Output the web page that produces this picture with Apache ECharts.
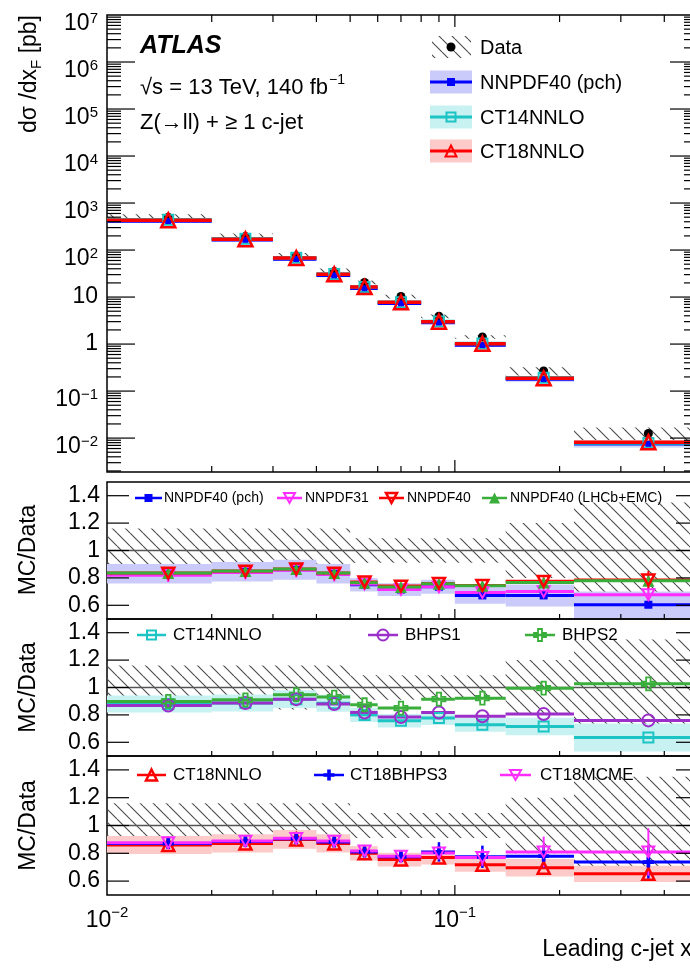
<!DOCTYPE html>
<html>
<head>
<meta charset="utf-8">
<script src="https://cdn.jsdelivr.net/npm/echarts@6/dist/echarts.min.js"></script>
<style>
  html, body { margin: 0; padding: 0; background: #fff; }
  #chart { width: 690px; height: 968px; }
</style>
</head>
<body>
<div id="chart"></div>
<script>
// ---------------- data ----------------
// bin edges and bin centres in leading c-jet x_F
const binEdges   = [0.01, 0.02, 0.03, 0.04, 0.05, 0.06, 0.08, 0.10, 0.14, 0.22, 0.50];
const binCenters = [0.015, 0.025, 0.035, 0.045, 0.055, 0.07, 0.09, 0.12, 0.18, 0.36];

// measured differential cross section [pb] and its relative total uncertainty
const dataXsec   = [500, 195, 75, 35, 20.5, 10.3, 3.9, 1.42, 0.268, 0.0125];
const dataRelUnc = [0.16, 0.16, 0.16, 0.16, 0.09, 0.09, 0.09, 0.09, 0.20, 0.35];

// predictions [pb]
const predNNPDF40pch = [415, 165, 64.5, 29.0, 15.4, 7.36, 2.87, 0.954, 0.180, 0.00755];
const predCT14NNLO   = [440, 173, 68.6, 31.0, 16.4, 7.80, 3.03, 1.03, 0.192, 0.0079];
const predCT18NNLO   = [430, 170, 67.5, 30.5, 16.4, 7.78, 3.00, 1.02, 0.187, 0.0082];

// relative PDF uncertainty of the predictions with bands
const relUncNNPDF40pch = [0.085, 0.085, 0.085, 0.085, 0.065, 0.065, 0.07, 0.09, 0.12, 0.16];
const relUncCT14NNLO   = [0.07, 0.07, 0.07, 0.07, 0.065, 0.065, 0.065, 0.07, 0.09, 0.16];
const relUncCT18NNLO   = [0.075, 0.075, 0.075, 0.075, 0.065, 0.065, 0.065, 0.07, 0.09, 0.09];

// MC/Data ratios, panel 1
const ratioNNPDF40pch  = [0.830, 0.845, 0.860, 0.830, 0.750, 0.715, 0.735, 0.672, 0.672, 0.604];
const ratioNNPDF31     = [0.820, 0.840, 0.855, 0.825, 0.755, 0.715, 0.735, 0.693, 0.700, 0.677];
const ratioNNPDF40     = [0.835, 0.850, 0.865, 0.835, 0.770, 0.740, 0.760, 0.745, 0.775, 0.785];
const ratioNNPDF40lhcb = [0.835, 0.850, 0.865, 0.835, 0.765, 0.733, 0.757, 0.742, 0.766, 0.780];
// panel 2
const ratioCT14NNLO = [0.880, 0.886, 0.915, 0.885, 0.800, 0.757, 0.777, 0.728, 0.715, 0.635];
const ratioBHPS1    = [0.869, 0.886, 0.915, 0.879, 0.818, 0.784, 0.818, 0.790, 0.806, 0.760];
const ratioBHPS2    = [0.898, 0.910, 0.947, 0.930, 0.874, 0.850, 0.915, 0.922, 0.995, 1.027];
// panel 3
const ratioCT18NNLO  = [0.860, 0.871, 0.900, 0.871, 0.800, 0.755, 0.770, 0.718, 0.696, 0.652];
const ratioCT18BHPS3 = [0.870, 0.885, 0.905, 0.882, 0.810, 0.775, 0.810, 0.775, 0.779, 0.737];
const ratioCT18MCME  = [0.876, 0.888, 0.908, 0.888, 0.817, 0.779, 0.803, 0.770, 0.810, 0.810];

// error bars on ratio markers
const errNNPDF40pch  = [0.01, 0.01, 0.01, 0.01, 0.01, 0.01, 0.01, 0.015, 0.02, 0.02];
const errNNPDF31     = [0.05, 0.05, 0.05, 0.05, 0.04, 0.04, 0.04, 0.04, 0.05, 0.08];
const errNNPDF40     = [0.02, 0.02, 0.02, 0.02, 0.02, 0.02, 0.02, 0.02, 0.03, 0.065];
const errCT18BHPS3   = [0.02, 0.02, 0.02, 0.02, 0.03, 0.03, 0.07, 0.08, 0.08, 0.12];
const errCT18MCME    = [0.02, 0.02, 0.02, 0.02, 0.03, 0.03, 0.04, 0.06, 0.11, 0.17];

// axis tick values
const xMajorTicks = [0.1];
const xMinorTicks = [0.02, 0.03, 0.04, 0.05, 0.06, 0.07, 0.08, 0.09, 0.2, 0.3, 0.4];
const yPowers = [-2, -1, 0, 1, 2, 3, 4, 5, 6, 7];
const yMinorMultipliers = [2, 3, 4, 5, 6, 7, 8, 9];
const ratioTicks = [0.6, 0.8, 1, 1.2, 1.4];
const xLabelTicks = [0.01, 0.1];

// ---------------- style ----------------
const FONT = '"Liberation Sans", Arial, Helvetica, sans-serif';
const COL = {
  blue: '#0000ff', blueBand: '#cacafb',
  cyan: '#1cc4c4', cyanBand: '#c8f1f1',
  red: '#ff0000', redBand: '#fdcaca',
  magenta: '#ff2cff', green: '#3aae3a', purple: '#9a2fc9',
  hatch: '#4a4a4a'
};
const X_MIN = 0.01, X_MAX = 0.5;
const TOP_YMIN = 0.0019, TOP_YMAX = 1e7;
const R_YMIN = 0.5, R_YMAX = 1.5;

// diagonal hatch pattern for the data uncertainty
const hatchCanvas = (() => {
  const s = 13, c = document.createElement('canvas');
  c.width = s; c.height = s;
  const g = c.getContext('2d');
  g.strokeStyle = COL.hatch; g.lineWidth = 1.1;
  g.beginPath();
  for (const k of [-1, 0, 1]) { g.moveTo(k * s, 0); g.lineTo(k * s + s, s); }
  g.stroke();
  return c;
})();
const hatchFill = { image: hatchCanvas, repeat: 'repeat' };

// ---------------- series helpers ----------------
const onGrid = gi => ({ xAxisIndex: gi, yAxisIndex: gi });

function boxSeries(gi, lo, hi, fill, z) {
  return {
    type: 'custom', ...onGrid(gi), z, silent: true,
    data: lo.map((l, i) => [binEdges[i], binEdges[i + 1], l, hi[i]]),
    encode: { x: [0, 1], y: [2, 3] },
    renderItem: (p, api) => {
      const a = api.coord([api.value(0), api.value(3)]);
      const b = api.coord([api.value(1), api.value(2)]);
      return { type: 'rect', shape: { x: a[0], y: a[1], width: b[0] - a[0], height: b[1] - a[1] }, style: { fill } };
    }
  };
}

function stepSeries(gi, vals, color, width, z, edges) {
  const e = edges || binEdges;
  return {
    type: 'custom', ...onGrid(gi), z, silent: true,
    data: vals.map((v, i) => [e[i], e[i + 1], v]),
    encode: { x: [0, 1], y: 2 },
    renderItem: (p, api) => {
      const a = api.coord([api.value(0), api.value(2)]);
      const b = api.coord([api.value(1), api.value(2)]);
      return { type: 'line', shape: { x1: a[0], y1: a[1], x2: b[0], y2: b[1] }, style: { stroke: color, lineWidth: width } };
    }
  };
}

function errSeries(gi, vals, errs, color, width, z) {
  return {
    type: 'custom', ...onGrid(gi), z, silent: true,
    data: vals.map((v, i) => [binCenters[i], v - errs[i], v + errs[i]]),
    encode: { x: 0, y: [1, 2] },
    renderItem: (p, api) => {
      const a = api.coord([api.value(0), api.value(1)]);
      const b = api.coord([api.value(0), api.value(2)]);
      return { type: 'line', shape: { x1: a[0], y1: a[1], x2: b[0], y2: b[1] }, style: { stroke: color, lineWidth: width } };
    }
  };
}

const SYM_INV_TRI = 'path://M0,0L10,0L5,9Z';
const SYM_CROSS = 'path://M3.3,0L6.7,0L6.7,3.3L10,3.3L10,6.7L6.7,6.7L6.7,10L3.3,10L3.3,6.7L0,6.7L0,3.3L3.3,3.3Z';

function markerSeries(gi, vals, symbol, size, color, open, z, bw) {
  return {
    type: 'scatter', ...onGrid(gi), z, silent: true,
    symbol, symbolSize: size, symbolKeepAspect: true,
    itemStyle: open
      ? { color: 'rgba(0,0,0,0)', borderColor: color, borderWidth: bw || 2, opacity: 1 }
      : { color, borderWidth: 0, opacity: 1 },
    data: vals.map((v, i) => [binCenters[i], v])
  };
}

// tick marks drawn on all four frame sides through the axis scales
function tickSeries(gi, items) {
  return {
    type: 'custom', ...onGrid(gi), z: 60, silent: true,
    data: items, encode: { x: 0, y: 1 },
    renderItem: (p, api) => {
      const pt = api.coord([api.value(0), api.value(1)]);
      const kind = api.value(2), len = api.value(3);
      let x2 = pt[0], y2 = pt[1];
      if (kind === 0) y2 -= len; else if (kind === 1) y2 += len;
      else if (kind === 2) x2 += len; else x2 -= len;
      return { type: 'line', shape: { x1: pt[0], y1: pt[1], x2, y2 }, style: { stroke: '#000', lineWidth: 1.2 } };
    }
  };
}

function topPanelTicks() {
  const items = [];
  xMajorTicks.forEach(v => { items.push([v, TOP_YMIN, 0, 12]); items.push([v, TOP_YMAX, 1, 12]); });
  xMinorTicks.forEach(v => { items.push([v, TOP_YMIN, 0, 6]); items.push([v, TOP_YMAX, 1, 7]); });
  yPowers.forEach(k => {
    const v = Math.pow(10, k);
    if (k < 7) { items.push([X_MIN, v, 2, 28]); items.push([X_MAX, v, 3, 28]); }
  });
  [-3].concat(yPowers).forEach(k => {
    yMinorMultipliers.forEach(m => {
      const v = m * Math.pow(10, k);
      if (v > TOP_YMIN && v < TOP_YMAX) { items.push([X_MIN, v, 2, 14]); items.push([X_MAX, v, 3, 14]); }
    });
  });
  return items;
}
function ratioPanelTicks() {
  const items = [];
  xMajorTicks.forEach(v => items.push([v, R_YMIN, 0, 10]));
  xMinorTicks.forEach(v => items.push([v, R_YMIN, 0, 5]));
  ratioTicks.forEach(v => { items.push([X_MIN, v, 2, 22]); items.push([X_MAX, v, 3, 22]); });
  return items;
}

// ---------------- series ----------------
const series = [];
const scaled = (vals, rel, s) => vals.map((v, i) => v * (1 + s * rel[i]));

// top panel
series.push(boxSeries(0, scaled(dataXsec, dataRelUnc, -1), scaled(dataXsec, dataRelUnc, 1), hatchFill, 1));
series.push(boxSeries(0, scaled(predNNPDF40pch, relUncNNPDF40pch, -1), scaled(predNNPDF40pch, relUncNNPDF40pch, 1), COL.blueBand, 2));
series.push(boxSeries(0, scaled(predCT14NNLO, relUncCT14NNLO, -1), scaled(predCT14NNLO, relUncCT14NNLO, 1), COL.cyanBand, 2));
series.push(boxSeries(0, scaled(predCT18NNLO, relUncCT18NNLO, -1), scaled(predCT18NNLO, relUncCT18NNLO, 1), COL.redBand, 2));
series.push(stepSeries(0, predNNPDF40pch, COL.blue, 3.5, 5));
series.push(stepSeries(0, predCT14NNLO, COL.cyan, 3.5, 6));
series.push(stepSeries(0, predCT18NNLO, COL.red, 3.5, 7));
series.push(markerSeries(0, dataXsec, 'circle', 9, '#000', false, 10));
series.push(markerSeries(0, predCT14NNLO, 'rect', 10, COL.cyan, true, 11, 2));
series.push(markerSeries(0, predNNPDF40pch, 'rect', 6, COL.blue, false, 12));
series.push(markerSeries(0, predCT18NNLO, 'triangle', 14, COL.red, true, 13, 2.5));
series.push(tickSeries(0, topPanelTicks()));

// ratio panels: data uncertainty hatch and unity line
const ones = dataRelUnc.map(() => 1);
[1, 2, 3].forEach(gi => {
  series.push(boxSeries(gi, scaled(ones, dataRelUnc, -1), scaled(ones, dataRelUnc, 1), hatchFill, 1));
  series.push(stepSeries(gi, [1], '#555', 1.6, 4, [X_MIN, X_MAX]));
  series.push(tickSeries(gi, ratioPanelTicks()));
});

// panel 1
series.push(boxSeries(1, scaled(ratioNNPDF40pch, relUncNNPDF40pch, -1), scaled(ratioNNPDF40pch, relUncNNPDF40pch, 1), COL.blueBand, 3));
series.push(stepSeries(1, ratioNNPDF40pch, COL.blue, 3, 5));
series.push(stepSeries(1, ratioNNPDF31, COL.magenta, 3, 6));
series.push(stepSeries(1, ratioNNPDF40, COL.red, 3, 7));
series.push(stepSeries(1, ratioNNPDF40lhcb, COL.green, 3, 8));
series.push(errSeries(1, ratioNNPDF40pch, errNNPDF40pch, COL.blue, 3, 9));
series.push(errSeries(1, ratioNNPDF31, errNNPDF31, COL.magenta, 2, 9));
series.push(errSeries(1, ratioNNPDF40, errNNPDF40, COL.red, 2, 9));
series.push(markerSeries(1, ratioNNPDF40pch, 'rect', 8, COL.blue, false, 10));
series.push(markerSeries(1, ratioNNPDF31, SYM_INV_TRI, 12, COL.magenta, true, 11, 2));
series.push(markerSeries(1, ratioNNPDF40lhcb, 'triangle', 12, COL.green, false, 12));
series.push(markerSeries(1, ratioNNPDF40, SYM_INV_TRI, 12, COL.red, true, 13, 2.5));

// panel 2
series.push(boxSeries(2, scaled(ratioCT14NNLO, relUncCT14NNLO, -1), scaled(ratioCT14NNLO, relUncCT14NNLO, 1), COL.cyanBand, 3));
series.push(stepSeries(2, ratioCT14NNLO, COL.cyan, 3, 5));
series.push(stepSeries(2, ratioBHPS1, COL.purple, 3, 6));
series.push(stepSeries(2, ratioBHPS2, COL.green, 3, 7));
series.push(markerSeries(2, ratioCT14NNLO, 'rect', 10, COL.cyan, true, 10, 2));
series.push(markerSeries(2, ratioBHPS1, 'circle', 12, COL.purple, true, 11, 2));
series.push(markerSeries(2, ratioBHPS2, SYM_CROSS, 13, COL.green, true, 12, 1.8));

// panel 3
series.push(boxSeries(3, scaled(ratioCT18NNLO, relUncCT18NNLO, -1), scaled(ratioCT18NNLO, relUncCT18NNLO, 1), COL.redBand, 3));
series.push(stepSeries(3, ratioCT18NNLO, COL.red, 3, 5));
series.push(stepSeries(3, ratioCT18BHPS3, COL.blue, 3, 6));
series.push(stepSeries(3, ratioCT18MCME, COL.magenta, 3, 7));
series.push(errSeries(3, ratioCT18BHPS3, errCT18BHPS3, COL.blue, 2.5, 9));
series.push(errSeries(3, ratioCT18MCME, errCT18MCME, COL.magenta, 2, 9));
series.push(markerSeries(3, ratioCT18NNLO, 'triangle', 12, COL.red, true, 10, 2.5));
series.push(markerSeries(3, ratioCT18BHPS3, SYM_CROSS, 11, COL.blue, false, 11));
series.push(markerSeries(3, ratioCT18MCME, SYM_INV_TRI, 12, COL.magenta, true, 12, 2));

// ---------------- axes ----------------
const gridBase = { left: 107, right: -8, show: true, borderColor: '#000', borderWidth: 1.5,
  backgroundColor: 'rgba(0,0,0,0)', containLabel: false, outerBoundsMode: 'none' };
const grids = [
  { ...gridBase, top: 15, height: 457 },
  { ...gridBase, top: 482, height: 137 },
  { ...gridBase, top: 619, height: 137 },
  { ...gridBase, top: 756, height: 139 }
];

const richY = {
  n: { fontSize: 23, fontFamily: FONT, color: '#000' },
  b: { fontSize: 23, fontFamily: FONT, color: '#000', padding: [18, 0, 0, 0], verticalAlign: 'top' },
  s: { fontSize: 15, fontFamily: FONT, color: '#000', padding: [17, 0, 0, 0], verticalAlign: 'top' }
};
const richX = {
  b: { fontSize: 23, fontFamily: FONT, color: '#000', padding: [6, 0, 0, 0], verticalAlign: 'top' },
  s: { fontSize: 15, fontFamily: FONT, color: '#000', padding: [2, 0, 0, 0], verticalAlign: 'top' }
};
function powLabel(v) {
  const k = Math.round(Math.log10(v));
  if (k === 0) return '{n|1}';
  if (k === 1) return '{n|10}';
  return '{b|10}{s|' + (k < 0 ? '\u2212' + (-k) : String(k)) + '}';
}

const noLine = { show: false };
const xAxes = grids.map((g, i) => ({
  type: 'log', logBase: 10, gridIndex: i, min: X_MIN, max: X_MAX,
  axisLine: noLine, axisTick: noLine, splitLine: noLine, minorTick: noLine, minorSplitLine: noLine,
  axisPointer: { show: false },
  axisLabel: i === 3
    ? { show: true, customValues: xLabelTicks, margin: 8, formatter: v => powLabel(v).replace('{n|', '{b|'), rich: richX }
    : { show: false }
}));
const yAxes = grids.map((g, i) => i === 0
  ? {
      type: 'log', logBase: 10, gridIndex: 0, min: TOP_YMIN, max: TOP_YMAX,
      axisLine: noLine, axisTick: noLine, splitLine: noLine, minorTick: noLine,
      axisLabel: { show: true, customValues: yPowers.map(k => Math.pow(10, k)), margin: 9,
        formatter: v => powLabel(v), rich: richY }
    }
  : {
      type: 'value', gridIndex: i, min: R_YMIN, max: R_YMAX,
      axisLine: noLine, axisTick: noLine, splitLine: noLine,
      axisLabel: { show: true, customValues: ratioTicks, margin: 7, fontSize: 23, fontFamily: FONT, color: '#000',
        formatter: v => String(Math.round(v * 10) / 10) }
    });

// ---------------- annotations and legends ----------------
const gfx = [];
function txt(x, y, text, size, extra) {
  gfx.push({ type: 'text', x, y, z: 100, silent: true,
    style: Object.assign({ text, fontSize: size, fontFamily: FONT, fill: '#000', verticalAlign: 'middle', align: 'left' }, extra || {}) });
}
function gMarker(kind, cx, cy, s, color, lw) {
  const h = s / 2;
  const open = { fill: 'none', stroke: color, lineWidth: lw || 2 };
  const solid = { fill: color };
  const tri = [[cx, cy - h], [cx + h, cy + h], [cx - h, cy + h]];
  const inv = [[cx - h, cy - h * 0.9], [cx + h, cy - h * 0.9], [cx, cy + h * 0.9]];
  const c = 0.33 * s;
  const cross = [[-c / 2, -h], [c / 2, -h], [c / 2, -c / 2], [h, -c / 2], [h, c / 2], [c / 2, c / 2], [c / 2, h],
    [-c / 2, h], [-c / 2, c / 2], [-h, c / 2], [-h, -c / 2], [-c / 2, -c / 2]].map(p => [cx + p[0], cy + p[1]]);
  switch (kind) {
    case 'square': return { type: 'rect', shape: { x: cx - h, y: cy - h, width: s, height: s }, style: solid };
    case 'squareOpen': return { type: 'rect', shape: { x: cx - h, y: cy - h, width: s, height: s }, style: open };
    case 'triOpen': return { type: 'polygon', shape: { points: tri }, style: open };
    case 'triFilled': return { type: 'polygon', shape: { points: tri }, style: solid };
    case 'invOpen': return { type: 'polygon', shape: { points: inv }, style: open };
    case 'circleOpen': return { type: 'circle', shape: { cx, cy, r: h }, style: open };
    case 'crossOpen': return { type: 'polygon', shape: { points: cross }, style: open };
    case 'crossFilled': return { type: 'polygon', shape: { points: cross }, style: solid };
    case 'dot': return { type: 'circle', shape: { cx, cy, r: h }, style: solid };
  }
}
function pushG(el) { el.z = 100; el.silent = true; gfx.push(el); }
function legendLine(x0, x1, y, color, kind, s, lw, label, tx, size) {
  pushG({ type: 'line', shape: { x1: x0, y1: y, x2: x1, y2: y }, style: { stroke: color, lineWidth: 2.5 } });
  pushG(gMarker(kind, (x0 + x1) / 2, y, s, color, lw));
  txt(tx, y, label, size);
}

// top panel labels
txt(140, 46, 'ATLAS', 25, { fontWeight: 'bold', fontStyle: 'italic' });
gfx.push({ type: 'text', x: 140, y: 86, z: 100, silent: true, style: {
  text: '{a|\u221As = 13 TeV, 140 fb}{s|\u22121}', verticalAlign: 'middle', fill: '#000',
  rich: { a: { fontSize: 22, fontFamily: FONT, verticalAlign: 'bottom' },
          s: { fontSize: 14, fontFamily: FONT, padding: [0, 0, 11, 1], verticalAlign: 'bottom' } } } });
txt(140, 123, 'Z(\u2192ll) + \u2265 1 c-jet', 22);

// top panel legend
pushG({ type: 'rect', shape: { x: 432, y: 36, width: 39, height: 22 }, style: { fill: hatchFill } });
pushG(gMarker('dot', 451, 47, 9, '#000'));
txt(480, 48, 'Data', 20);
const topLegend = [
  { y: 82, band: COL.blueBand, color: COL.blue, kind: 'square', s: 8, label: 'NNPDF40 (pch)' },
  { y: 117, band: COL.cyanBand, color: COL.cyan, kind: 'squareOpen', s: 9, label: 'CT14NNLO' },
  { y: 151, band: COL.redBand, color: COL.red, kind: 'triOpen', s: 11, label: 'CT18NNLO' }
];
topLegend.forEach(e => {
  pushG({ type: 'rect', shape: { x: 430, y: e.y - 11.5, width: 42, height: 23 }, style: { fill: e.band } });
  pushG({ type: 'line', shape: { x1: 430, y1: e.y, x2: 472, y2: e.y }, style: { stroke: e.color, lineWidth: 3 } });
  pushG(gMarker(e.kind, 451, e.y, e.s, e.color, 2));
  txt(480, e.y + 1, e.label, 20);
});

// ratio panel legends
legendLine(135, 162, 498, COL.blue, 'square', 8, 2, 'NNPDF40 (pch)', 164, 14);
legendLine(277, 302, 498, COL.magenta, 'invOpen', 11, 2, 'NNPDF31', 305, 14);
legendLine(379, 404, 498, COL.red, 'invOpen', 11, 2.5, 'NNPDF40', 407, 14);
legendLine(482, 507, 498, COL.green, 'triFilled', 11, 2, 'NNPDF40 (LHCb+EMC)', 510, 14);

legendLine(137, 166, 635, COL.cyan, 'squareOpen', 9, 2, 'CT14NNLO', 173, 17);
legendLine(368, 398, 635, COL.purple, 'circleOpen', 11, 2, 'BHPS1', 405, 17);
legendLine(525, 555, 635, COL.green, 'crossOpen', 12, 1.8, 'BHPS2', 562, 17);

legendLine(137, 166, 775, COL.red, 'triOpen', 11, 2.5, 'CT18NNLO', 173, 17);
legendLine(314, 344, 775, COL.blue, 'crossFilled', 11, 2, 'CT18BHPS3', 350, 17);
legendLine(500, 531, 775, COL.magenta, 'invOpen', 11, 2, 'CT18MCME', 540, 17);

// axis titles
const richTitle = {
  a: { fontSize: 23, fontFamily: FONT, verticalAlign: 'top' },
  s: { fontSize: 15, fontFamily: FONT, padding: [11, 0, 0, 0], verticalAlign: 'top' }
};
gfx.push({ type: 'text', x: 31, y: 15, rotation: Math.PI / 2, z: 100, silent: true, style: {
  text: '{a|d\u03C3 /dx}{s|F}{a| [pb]}', align: 'right', verticalAlign: 'middle', fill: '#000', rich: richTitle } });
[550, 687.5, 825.5].forEach(yc => {
  gfx.push({ type: 'text', x: 29, y: yc, rotation: Math.PI / 2, z: 100, silent: true, style: {
    text: 'MC/Data', fontSize: 23, fontFamily: FONT, fill: '#000', align: 'center', verticalAlign: 'middle' } });
});
gfx.push({ type: 'text', x: 701, y: 951, z: 100, silent: true, style: {
  text: '{a|Leading c-jet x}{s|F}', align: 'right', verticalAlign: 'middle', fill: '#000', rich: richTitle } });

// ---------------- chart ----------------
const chart = echarts.init(document.getElementById('chart'), null, { renderer: 'canvas', width: 690, height: 968 });
chart.setOption({
  animation: false,
  backgroundColor: '#fff',
  textStyle: { fontFamily: FONT },
  grid: grids,
  xAxis: xAxes,
  yAxis: yAxes,
  series,
  graphic: { elements: gfx }
});
</script>
</body>
</html>
